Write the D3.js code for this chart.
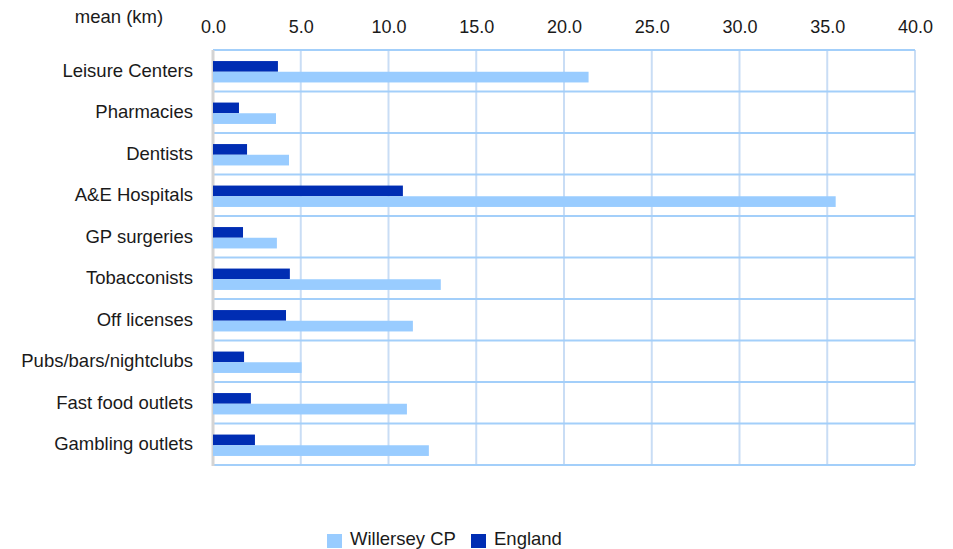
<!DOCTYPE html>
<html>
<head>
<meta charset="utf-8">
<script src="https://cdn.jsdelivr.net/npm/d3@7"></script>
<style>
  body{margin:0;background:#fff}
  text{font-family:"Liberation Sans",Arial,sans-serif;fill:#1a1a1a}
</style>
</head>
<body>
<div id="chart"></div>
<script>
const categories = ['Leisure Centers','Pharmacies','Dentists','A&E Hospitals','GP surgeries',
  'Tobacconists','Off licenses','Pubs/bars/nightclubs','Fast food outlets','Gambling outlets']
const willersey = [21.4,3.59,4.33,35.48,3.64,12.98,11.39,5.05,11.05,12.3]
const england = [3.7,1.48,1.94,10.82,1.71,4.38,4.16,1.77,2.16,2.39]
const ticks = [0,5,10,15,20,25,30,35,40]
const seriesNames = ['Willersey CP','England']
const colors = ['#99ccff','#002db3']

const width = 953, height = 549
const m = {top:50,left:213,right:38,bottom:84}
const fs = '18.5px'

const svg = d3.select('#chart').append('svg')
  .attr('width',width)
  .attr('height',height)

const x = d3.scaleLinear().domain([0,40]).range([m.left,width-m.right])
const y = d3.scaleBand().domain(categories).range([m.top,height-m.bottom])
const inner = d3.scaleBand().domain(['England','Willersey CP']).range([0,y.bandwidth()])
  .paddingOuter(0.94).align(0.55)

// vertical grid
svg.append('g').selectAll('line').data(ticks.slice(1)).join('line')
  .attr('x1',d=>x(d)).attr('x2',d=>x(d))
  .attr('y1',m.top).attr('y2',height-m.bottom)
  .attr('stroke','#c9ddf5').attr('stroke-width',2)

// horizontal row lines
svg.append('g').selectAll('line').data(d3.range(categories.length+1)).join('line')
  .attr('x1',m.left).attr('x2',width-m.right)
  .attr('y1',i=>m.top+i*y.step()).attr('y2',i=>m.top+i*y.step())
  .attr('stroke','#a3cffa').attr('stroke-width',2)

// left axis line
svg.append('line')
  .attr('x1',m.left).attr('x2',m.left)
  .attr('y1',m.top).attr('y2',height-m.bottom+1)
  .attr('stroke','#d4d4d4').attr('stroke-width',3)

// bars
const rows = categories.map((c,i)=>({c,w:willersey[i],e:england[i]}))
const g = svg.append('g')
g.selectAll('.eng').data(rows).join('rect')
  .attr('x',x(0)).attr('y',d=>y(d.c)+inner('England'))
  .attr('width',d=>x(d.e)-x(0)).attr('height',inner.bandwidth())
  .attr('fill',colors[1])
g.selectAll('.wil').data(rows).join('rect')
  .attr('x',x(0)).attr('y',d=>y(d.c)+inner('Willersey CP'))
  .attr('width',d=>x(d.w)-x(0)).attr('height',inner.bandwidth())
  .attr('fill',colors[0])

// top axis
const xAxis = svg.append('g')
  .attr('transform',`translate(0,${m.top})`)
  .call(d3.axisTop(x).tickValues(ticks).tickFormat(d3.format('.1f')).tickSize(0).tickPadding(17))
xAxis.select('.domain').remove()
xAxis.selectAll('text').style('font-size','18px').attr('fill','#1a1a1a')
  .style('font-family','"Liberation Sans",Arial,sans-serif')

svg.append('text').attr('x',119).attr('y',23).attr('text-anchor','middle')
  .style('font-size',fs).text('mean (km)')

// category labels
const yAxis = svg.append('g')
  .attr('transform',`translate(${m.left-20},0)`)
  .call(d3.axisLeft(y).tickSize(0).tickPadding(0))
yAxis.select('.domain').remove()
yAxis.selectAll('text').style('font-size',fs).attr('fill','#1a1a1a')
  .style('font-family','"Liberation Sans",Arial,sans-serif')

// legend
const lx = [327,471]
const leg = svg.append('g').selectAll('g').data(seriesNames).join('g')
  .attr('transform',(d,i)=>`translate(${lx[i]},534)`)
leg.append('rect').attr('width',15).attr('height',14).attr('fill',(d,i)=>colors[i])
leg.append('text').attr('x',23).attr('y',11).style('font-size',fs).text(d=>d)
</script>
</body>
</html>
